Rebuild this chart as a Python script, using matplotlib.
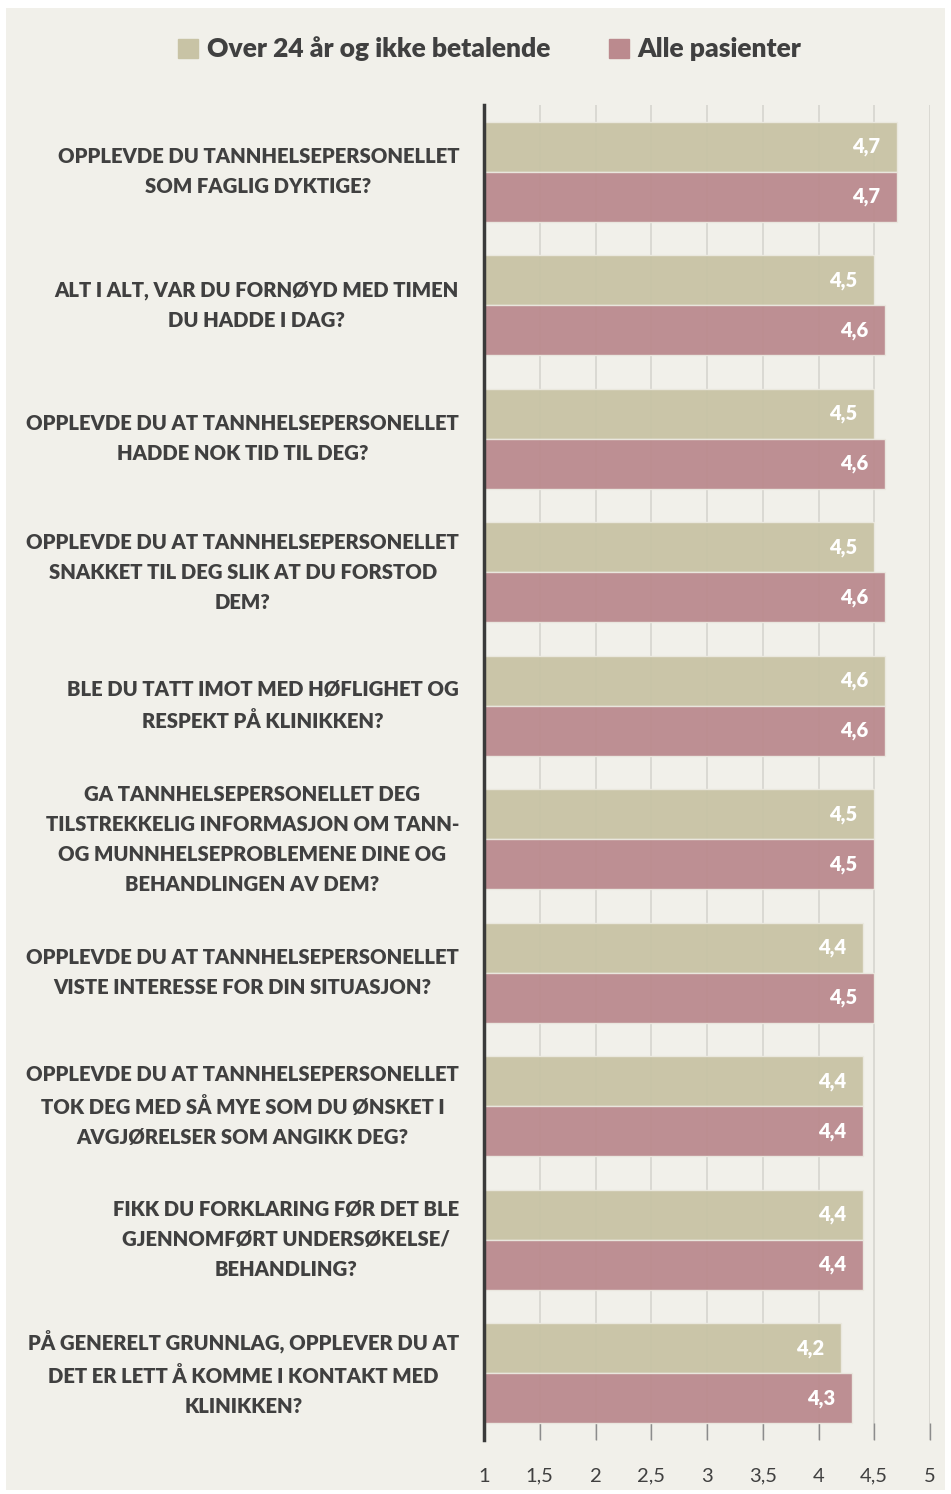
import matplotlib
matplotlib.use("Agg")
import matplotlib.pyplot as plt
import numpy as np
from matplotlib.patches import Rectangle

categories = [
    "OPPLEVDE DU TANNHELSEPERSONELLET\nSOM FAGLIG DYKTIGE?",
    "ALT I ALT, VAR DU FORNØYD MED TIMEN\nDU HADDE I DAG?",
    "OPPLEVDE DU AT TANNHELSEPERSONELLET\nHADDE NOK TID TIL DEG?",
    "OPPLEVDE DU AT TANNHELSEPERSONELLET\nSNAKKET TIL DEG SLIK AT DU FORSTOD\nDEM?",
    "BLE DU TATT IMOT MED HØFLIGHET OG\nRESPEKT PÅ KLINIKKEN?",
    "GA TANNHELSEPERSONELLET DEG\nTILSTREKKELIG INFORMASJON OM TANN-\nOG MUNNHELSEPROBLEMENE DINE OG\nBEHANDLINGEN AV DEM?",
    "OPPLEVDE DU AT TANNHELSEPERSONELLET\nVISTE INTERESSE FOR DIN SITUASJON?",
    "OPPLEVDE DU AT TANNHELSEPERSONELLET\nTOK DEG MED SÅ MYE SOM DU ØNSKET I\nAVGJØRELSER SOM ANGIKK DEG?",
    "FIKK DU FORKLARING FØR DET BLE\nGJENNOMFØRT UNDERSØKELSE/\nBEHANDLING?",
    "PÅ GENERELT GRUNNLAG, OPPLEVER DU AT\nDET ER LETT Å KOMME I KONTAKT MED\nKLINIKKEN?",
]
over24 = [4.7, 4.5, 4.5, 4.5, 4.6, 4.5, 4.4, 4.4, 4.4, 4.2]
alle = [4.7, 4.6, 4.6, 4.6, 4.6, 4.5, 4.5, 4.4, 4.4, 4.3]
series_names = ["Over 24 år og ikke betalende", "Alle pasienter"]
xticks = [1, 1.5, 2, 2.5, 3, 3.5, 4, 4.5, 5]

c_tan = "#c8c3a5"
c_rose = "#bb8a8e"
bg = "#f1f0ea"
txt = "#404040"

plt.rcParams['font.family'] = ['Lato', 'DejaVu Sans']

W, H = 951, 1494
fig = plt.figure(figsize=(W/100, H/100), dpi=100)
fig.patch.set_facecolor("white")
fig.patches.append(Rectangle((6/W, 1-1490/H), (945-6)/W, (1490-8)/H,
                             transform=fig.transFigure, facecolor=bg,
                             edgecolor="none", zorder=-10))

ax = fig.add_axes([484/W, 1-1440/H, (930-484)/W, (1440-105)/H])
ax.set_facecolor("none")

n = len(categories)
y = np.arange(n)
h = 0.375
ax.barh(y - h/2, [v - 1 for v in over24], left=1, height=h, color=c_tan,
        edgecolor="#ebe9e0", linewidth=1, zorder=2, alpha=0.95)
ax.barh(y + h/2, [v - 1 for v in alle], left=1, height=h, color=c_rose,
        edgecolor="#ebe9e0", linewidth=1, zorder=2, alpha=0.95)

for vals, yy in ((over24, y - h/2), (alle, y + h/2)):
    for v, yv in zip(vals, yy):
        ax.text(v - 0.15, yv, f"{v:.1f}".replace(".", ","), ha="right", va="center",
                color="white", fontsize=14.5, fontweight="heavy", zorder=4)

ax.set_xlim(1, 5)
ax.set_ylim(n - 0.5, -0.5)
ax.set_xticks(xticks)
ax.set_xticklabels([str(t).replace(".", ",") if t != int(t) else str(int(t)) for t in xticks],
                   fontsize=14.5, color=txt)
ax.xaxis.grid(True, color="#d6d5cf", linewidth=1.2, zorder=1)
ax.set_axisbelow(True)
ax.tick_params(axis="x", direction="in", length=12, width=1, color="#8c8c8c", pad=20)
ax.set_yticks(y)
ax.set_yticklabels(categories, fontsize=14.6, fontweight="heavy", color=txt,
                   multialignment="center", linespacing=1.68)
for lab in ax.get_yticklabels():
    lab.set_va("center")
ax.tick_params(axis="y", length=0, pad=18)
for s in ("top", "right", "bottom"):
    ax.spines[s].set_visible(False)
ax.spines["left"].set_color("#3a3a3a")
ax.spines["left"].set_linewidth(2.5)
ax.spines["left"].set_zorder(5)

# legend
fig.legend([Rectangle((0, 0), 1, 1, color=c_tan), Rectangle((0, 0), 1, 1, color=c_rose)],
           series_names, loc="center", bbox_to_anchor=(490/W, 1-49/H), ncol=2,
           frameon=False, handlelength=0.75, handleheight=0.75,
           handletextpad=0.35, columnspacing=2.2,
           prop={"weight": "heavy", "size": 19})
for t in fig.legends[0].get_texts():
    t.set_color(txt)

fig.savefig("out.png", dpi=100, facecolor="white")
